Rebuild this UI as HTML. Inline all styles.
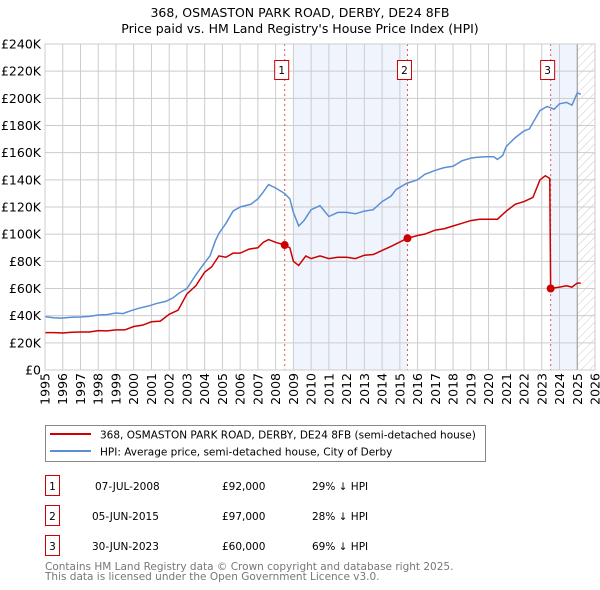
<!DOCTYPE html>
<html><head><meta charset="utf-8"><style>
body{margin:0;background:#fff;}
svg{display:block;font-family:"DejaVu Sans","Liberation Sans",sans-serif;}
</style></head><body>
<svg width="600" height="590" viewBox="0 0 600 590">
<defs><pattern id="hatch" width="6" height="6" patternUnits="userSpaceOnUse" patternTransform="rotate(45)"><line x1="0" y1="0" x2="0" y2="6" stroke="#bbb" stroke-width="0.8"/></pattern></defs>
<text x="300" y="17" text-anchor="middle" font-size="12.5" fill="#000">368, OSMASTON PARK ROAD, DERBY, DE24 8FB</text>
<text x="300" y="33" text-anchor="middle" font-size="12.5" fill="#000">Price paid vs. HM Land Registry's House Price Index (HPI)</text>
<g id="plot"></g>
<g>
<rect x="45.5" y="425.5" width="440" height="36" fill="#fff" stroke="#888"/>
<line x1="50" y1="434" x2="91" y2="434" stroke="#cc0000" stroke-width="2"/>
<text x="100" y="438.5" font-size="10.5">368, OSMASTON PARK ROAD, DERBY, DE24 8FB (semi-detached house)</text>
<line x1="50" y1="451" x2="91" y2="451" stroke="#5b8fd4" stroke-width="2"/>
<text x="100" y="455.5" font-size="10.5">HPI: Average price, semi-detached house, City of Derby</text>
</g>
<g font-size="10.5">
<rect x="45.5" y="475.5" width="14" height="20" fill="#fff" stroke="#cc0000"/><text x="52.5" y="490" text-anchor="middle">1</text>
<text x="95" y="490">07-JUL-2008</text><text x="222" y="490">£92,000</text><text x="312" y="490">29% ↓ HPI</text>
<rect x="45.5" y="505.5" width="14" height="20" fill="#fff" stroke="#cc0000"/><text x="52.5" y="520" text-anchor="middle">2</text>
<text x="92" y="520">05-JUN-2015</text><text x="222" y="520">£97,000</text><text x="312" y="520">28% ↓ HPI</text>
<rect x="45.5" y="535.5" width="14" height="20" fill="#fff" stroke="#cc0000"/><text x="52.5" y="550" text-anchor="middle">3</text>
<text x="92" y="550">30-JUN-2023</text><text x="222" y="550">£60,000</text><text x="312" y="550">69% ↓ HPI</text>
</g>
<text x="45" y="570" font-size="10.5" fill="#777">Contains HM Land Registry data © Crown copyright and database right 2025.</text>
<text x="45" y="580" font-size="10.5" fill="#777">This data is licensed under the Open Government Licence v3.0.</text>
</svg>
<script>
const hpiYears=[1995,1995.5,1995.9,1996.5,1997,1997.5,1998,1998.5,1999,1999.4,1999.8,2000.3,2000.8,2001.3,2001.8,2002.2,2002.6,2003,2003.5,2004,2004.3,2004.6,2004.8,2005.2,2005.6,2006,2006.3,2006.6,2007,2007.3,2007.6,2008,2008.5,2008.8,2009,2009.3,2009.6,2010,2010.5,2011,2011.5,2012,2012.5,2013,2013.5,2014,2014.5,2014.8,2015.4,2016,2016.4,2017,2017.5,2018,2018.5,2019,2019.3,2019.8,2020.3,2020.5,2020.8,2021,2021.5,2022,2022.3,2022.9,2023.3,2023.7,2024,2024.4,2024.7,2025,2025.2];
const hpiValues=[39.3,38.5,38.2,38.8,39.0,39.5,40.5,40.8,42.0,41.5,43.5,45.5,47.0,49.0,50.5,53,57,60,70,79,84,95,100.5,108,117,120,121,122,126,131,136.5,134,130,126,116,106,110,118,121,113,116,116,115,117,118,124,128,133,137.5,140,144,147,149,150,154,156,156.5,157,157,155,158,164.6,171,176,177.5,191,194,192,196,197,195,204,203];
const ppYears=[1995,1995.5,1996,1996.5,1997,1997.5,1998,1998.5,1999,1999.5,2000,2000.5,2001,2001.5,2002,2002.5,2003,2003.5,2004,2004.4,2004.8,2005.2,2005.6,2006,2006.5,2007,2007.3,2007.6,2008,2008.51,2008.8,2009,2009.3,2009.7,2010,2010.5,2011,2011.5,2012,2012.5,2013,2013.5,2014,2014.5,2015.43,2016,2016.4,2017,2017.5,2018,2018.5,2019,2019.5,2020,2020.5,2021,2021.5,2022,2022.5,2022.9,2023.2,2023.45,2023.5,2024,2024.4,2024.7,2025,2025.2];
const ppValues=[27.5,27.5,27.2,27.8,28,28,29,28.8,29.5,29.5,32,33,35.5,36,41,44,56,62,72,76,84,83,86,86,89,90,94,96,94,92,90,80,77,84,82,84,82,83,83,82,84.5,85,88,91,97,99,100,103,104,106,108,110,111,111,111,117,122,124,127,140,143,141,60,61,62,61,64,64];
const saleYears=[2008.51,2015.43,2023.5];
const saleValues=[92,97,60];
const yTicks=[0,20,40,60,80,100,120,140,160,180,200,220,240];
const xTicks=[1995,1996,1997,1998,1999,2000,2001,2002,2003,2004,2005,2006,2007,2008,2009,2010,2011,2012,2013,2014,2015,2016,2017,2018,2019,2020,2021,2022,2023,2024,2025,2026];
const L=45,R=595,T=44,B=370,x0=1995,x1=2026,ymax=240;
const X=v=>L+(v-x0)/(x1-x0)*(R-L);
const Y=v=>B-v/ymax*(B-T);
const NS="http://www.w3.org/2000/svg";
const g=document.getElementById('plot');
function mk(t,a,p){const e=document.createElementNS(NS,t);for(const k in a)e.setAttribute(k,a[k]);(p||g).appendChild(e);return e;}
let s1=mk('rect',{x:X(2009),y:T,width:X(saleYears[1])-X(2009),height:B-T,fill:'#f0f4fd'});


let s2=mk('rect',{x:X(saleYears[2]),y:T,width:X(2025)-X(saleYears[2]),height:B-T,fill:'#f0f4fd'});


let hz=mk('rect',{x:X(2025),y:T,width:R-X(2025),height:B-T,fill:'url(#hatch)'});


yTicks.forEach(v=>{
 let l=mk('line',{x1:L,x2:R,y1:Y(v),y2:Y(v),stroke:'#ccc','stroke-width':1});
 
 
 let t=mk('text',{x:L-4,y:Y(v)+4.5,'text-anchor':'end','font-size':12.5});
 t.textContent=v===0?'£0':'£'+v+'K';
 
 
});
xTicks.forEach(v=>{
 let l=mk('line',{x1:X(v),x2:X(v),y1:T,y2:B,stroke:'#ccc','stroke-width':1});
 
 
 let t=mk('text',{x:0,y:0,'font-size':12.5,'text-anchor':'end',transform:`translate(${X(v)+4.5},${B+3}) rotate(-90)`});
 t.textContent=v;
 
 
});
let ax=mk('line',{x1:X(2025),x2:X(2025),y1:T,y2:B,stroke:'#999','stroke-width':1});


saleYears.forEach((yr,i)=>{
 let l=mk('line',{x1:X(yr),x2:X(yr),y1:T,y2:B,stroke:'#e05555','stroke-width':1,'stroke-dasharray':'2,3'});
 
 
 let r=mk('rect',{x:X(yr)-10,y:60.5,width:14,height:19,fill:'#fff',stroke:'#cc0000'});
 
 
 let t=mk('text',{x:X(yr)-3,y:74,'text-anchor':'middle','font-size':10.5});
 t.textContent=i+1;
 
 
});
let hp=mk('polyline',{points:hpiYears.map((y,i)=>X(y)+','+Y(hpiValues[i])).join(' '),fill:'none',stroke:'#5b8fd4','stroke-width':1.5});


let pp=mk('polyline',{points:ppYears.map((y,i)=>X(y)+','+Y(ppValues[i])).join(' '),fill:'none',stroke:'#cc0000','stroke-width':1.5});


saleYears.forEach((yr,i)=>{
 let c=mk('circle',{cx:X(yr),cy:Y(saleValues[i]),r:4,fill:'#cc0000'});
 
 
});
let fr=mk('rect',{x:L,y:T,width:R-L,height:B-T,fill:'none',stroke:'#ccc'});


</script>
</body></html>
